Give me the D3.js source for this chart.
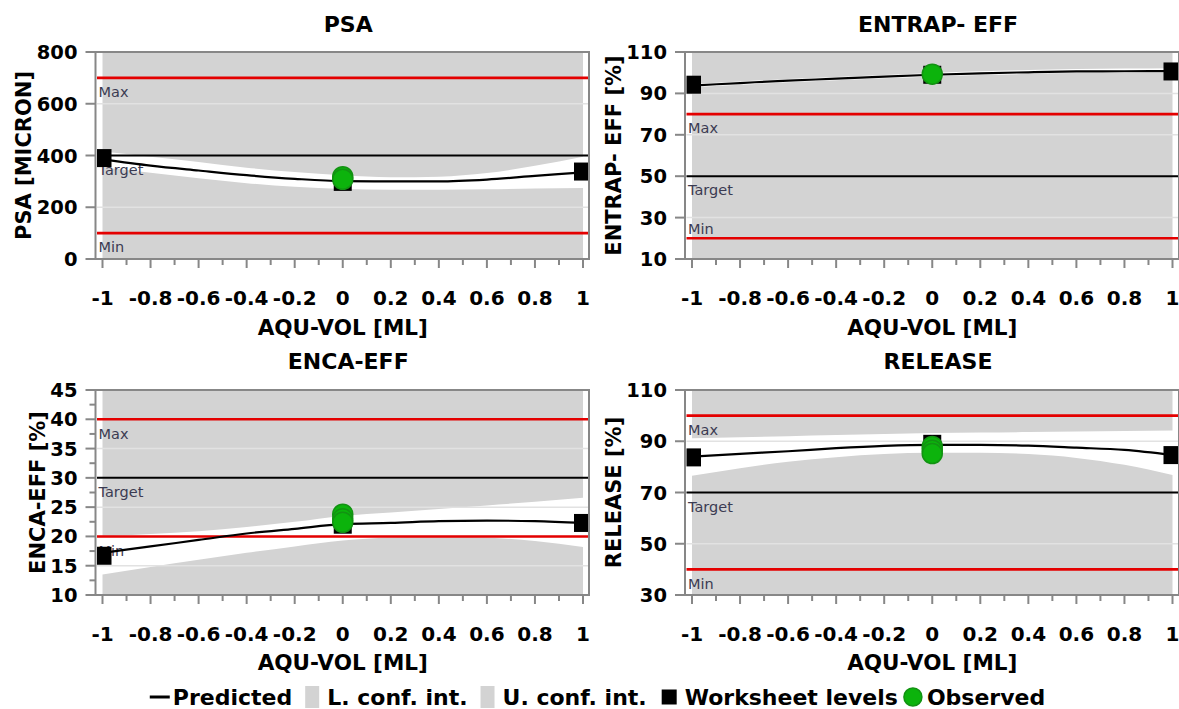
<!DOCTYPE html>
<html><head><meta charset="utf-8">
<script src="https://cdn.jsdelivr.net/npm/d3@7"></script>
<style>
body{margin:0;background:#fff;}
svg{display:block;font-family:"DejaVu Sans",sans-serif;}
</style></head><body>
<svg id="chart" width="1179" height="709"></svg>
<script>
// ---------- data ----------
const xLevels = [-1, -0.8, -0.6, -0.4, -0.2, 0, 0.2, 0.4, 0.6, 0.8, 1];
const xTickValues = [-1, -0.8, -0.6, -0.4, -0.2, 0, 0.2, 0.4, 0.6, 0.8, 1];
const xTickLabels = ["-1", "-0.8", "-0.6", "-0.4", "-0.2", "0", "0.2", "0.4", "0.6", "0.8", "1"];
const xMinorTicks = [-0.9, -0.7, -0.5, -0.3, -0.1, 0.1, 0.3, 0.5, 0.7, 0.9];
const worksheetX = [-1, 0, 1];
const xTitle = "AQU-VOL [ML]";
const limitNames = ["Min", "Target", "Max"];
const legendLabels = ["Predicted", "L. conf. int.", "U. conf. int.", "Worksheet levels", "Observed"];

// PSA
const psaYTicks = [0, 200, 400, 600, 800];
const psaLimits = [100, 400, 700];
const psaPredicted = [385, 361, 342, 324, 310, 301, 300, 300, 307, 321, 335];
const psaLower = [355, 333, 312, 293, 279, 271, 268, 268, 270, 272, 274];
const psaUpper = [415, 395, 375, 353, 336, 324, 316, 318, 332, 360, 395];
const psaWorksheet = [390, 298, 338];
const psaObserved = [318, 308];

// ENTRAP- EFF
const entrapYTicks = [10, 30, 50, 70, 90, 110];
const entrapLimits = [20, 50, 80];
const entrapPredicted = [93.8, 95.0, 96.2, 97.1, 98.1, 99.0, 99.7, 100.2, 100.6, 100.7, 100.8];
const entrapLower = [93.0, 94.2, 95.4, 96.3, 97.3, 98.2, 98.9, 99.4, 99.8, 99.9, 100.0];
const entrapUpper = [94.6, 95.8, 97.0, 97.9, 98.9, 99.9, 100.7, 101.3, 101.8, 102.0, 102.2];
const entrapWorksheet = [94.2, 99.0, 100.6];
const entrapObserved = [99.3];

// ENCA-EFF
const encaYTicks = [10, 15, 20, 25, 30, 35, 40, 45];
const encaYMinor = [12.5, 17.5, 22.5, 27.5, 32.5, 37.5, 42.5];
const encaLimits = [20, 30, 40];
const encaPredicted = [17.2, 18.3, 19.4, 20.5, 21.3, 22.1, 22.3, 22.6, 22.7, 22.6, 22.3];
const encaLower = [13.5, 14.8, 16.0, 17.2, 18.3, 19.3, 19.8, 20.0, 19.8, 19.2, 18.2];
const encaUpper = [20.0, 20.4, 20.9, 21.6, 22.5, 23.5, 24.1, 24.7, 25.3, 25.9, 26.6];
const encaWorksheet = [16.7, 22.0, 22.3];
const encaObserved = [23.8, 23.0, 22.4];

// RELEASE
const releaseYTicks = [30, 50, 70, 90, 110];
const releaseLimits = [40, 70, 100];
const releasePredicted = [84.0, 85.1, 86.1, 87.3, 88.2, 88.6, 88.6, 88.3, 87.5, 86.6, 84.6];
const releaseLower = [76.5, 79.5, 82.0, 83.8, 85.0, 85.5, 85.5, 85.0, 83.5, 80.8, 76.8];
const releaseUpper = [91.2, 91.6, 92.0, 92.4, 92.8, 93.2, 93.4, 93.6, 93.8, 94.0, 94.2];
const releaseWorksheet = [83.7, 89.0, 84.6];
const releaseObserved = [88.0, 86.5, 85.2];

// ---------- panel table built from arrays ----------
const panels = [
  {title:"PSA", yTitle:"PSA [MICRON]", ticks:psaYTicks, minor:[], limits:psaLimits,
   pred:psaPredicted, lower:psaLower, upper:psaUpper, ws:psaWorksheet, obs:psaObserved, col:0, row:0},
  {title:"ENTRAP- EFF", yTitle:"ENTRAP- EFF [%]", ticks:entrapYTicks, minor:[], limits:entrapLimits,
   pred:entrapPredicted, lower:entrapLower, upper:entrapUpper, ws:entrapWorksheet, obs:entrapObserved, col:1, row:0},
  {title:"ENCA-EFF", yTitle:"ENCA-EFF [%]", ticks:encaYTicks, minor:encaYMinor, limits:encaLimits,
   pred:encaPredicted, lower:encaLower, upper:encaUpper, ws:encaWorksheet, obs:encaObserved, col:0, row:1},
  {title:"RELEASE", yTitle:"RELEASE [%]", ticks:releaseYTicks, minor:[], limits:releaseLimits,
   pred:releasePredicted, lower:releaseLower, upper:releaseUpper, ws:releaseWorksheet, obs:releaseObserved, col:1, row:1}
];

// ---------- layout ----------
const colGeom = [{axis:95.5, x0:102.5, x1:583, right:589},
                 {axis:685, x0:692, x1:1172.5, right:1179}];
const rowGeom = [{top:52, bottom:259, title:32, tick:305, xtitle:335},
                 {top:390, bottom:595, title:369, tick:641, xtitle:670}];

const GRAY = "#d3d3d3", AXIS = "#878787", RED = "#e40000", GREEN = "#0cb30c";
const svg = d3.select("#chart");

panels.forEach((p, i) => {
  const c = colGeom[p.col], r = rowGeom[p.row];
  const x = d3.scaleLinear().domain([-1, 1]).range([c.x0, c.x1]);
  const yd = d3.extent(p.ticks);
  const y = d3.scaleLinear().domain(yd).range([r.bottom, r.top]);
  const g = svg.append("g");

  const clipId = "clip" + i;
  svg.append("clipPath").attr("id", clipId).append("rect")
    .attr("x", c.axis + 1.5).attr("y", r.top).attr("width", c.right - c.axis - 2.5).attr("height", r.bottom - r.top);

  const pg = g.append("g").attr("clip-path", `url(#${clipId})`);
  const pts = xLevels.map((xv, k) => ({x: xv, p: p.pred[k], lo: p.lower[k], up: p.upper[k]}));

  // lower confidence area (bottom -> lower bound)
  pg.append("path").datum(pts)
    .attr("d", d3.area().x(d => x(d.x)).y0(y(yd[0])).y1(d => y(d.lo)).curve(d3.curveMonotoneX))
    .attr("fill", GRAY);
  // upper confidence area (upper bound -> top)
  pg.append("path").datum(pts)
    .attr("d", d3.area().x(d => x(d.x)).y0(y(yd[1])).y1(d => y(d.up)).curve(d3.curveMonotoneX))
    .attr("fill", GRAY);

  // faint grid
  pg.selectAll(".grid").data(p.ticks.slice(1, -1)).enter().append("line")
    .attr("x1", c.axis).attr("x2", c.right).attr("y1", d => y(d)).attr("y2", d => y(d))
    .attr("stroke", "#e2e2e2").attr("stroke-width", 1.5);

  // limit lines
  p.limits.forEach((v, k) => {
    pg.append("line").attr("x1", c.axis).attr("x2", c.right).attr("y1", y(v)).attr("y2", y(v))
      .attr("stroke", k === 1 ? "#000" : RED).attr("stroke-width", k === 1 ? 2 : 2.6);
    const yy = y(v);
    const below = yy + 21 <= r.bottom - 2;
    pg.append("text").attr("x", c.axis + 3).attr("y", below ? yy + 14 : yy - 10)
      .attr("dy", "0.36em").attr("font-size", 14.5).attr("fill", "#3b3b52").text(limitNames[k]);
  });

  // predicted line
  pg.append("path").datum(pts)
    .attr("d", d3.line().x(d => x(d.x)).y(d => y(d.p)).curve(d3.curveMonotoneX))
    .attr("fill", "none").attr("stroke", "#000").attr("stroke-width", 2.2);

  // worksheet levels
  const sq = 18;
  pg.selectAll(".ws").data(p.ws).enter().append("rect")
    .attr("x", (d, k) => x(worksheetX[k]) - sq / 2).attr("y", d => y(d) - sq / 2)
    .attr("width", sq).attr("height", sq).attr("fill", "#000");

  // observed
  pg.selectAll(".obs").data(p.obs).enter().append("circle")
    .attr("cx", x(0)).attr("cy", d => y(d)).attr("r", 10)
    .attr("fill", GREEN).attr("stroke", "#129312").attr("stroke-width", 1.5);

  // frame
  g.append("rect").attr("x", c.axis).attr("y", r.top).attr("width", c.right - c.axis).attr("height", r.bottom - r.top)
    .attr("fill", "none").attr("stroke", AXIS).attr("stroke-width", 2);

  // y ticks
  g.selectAll(".yt").data(p.ticks).enter().append("line")
    .attr("x1", c.axis - 10).attr("x2", c.axis).attr("y1", d => y(d)).attr("y2", d => y(d))
    .attr("stroke", AXIS).attr("stroke-width", 2);
  g.selectAll(".ym").data(p.minor).enter().append("line")
    .attr("x1", c.axis - 6).attr("x2", c.axis).attr("y1", d => y(d)).attr("y2", d => y(d))
    .attr("stroke", AXIS).attr("stroke-width", 2);
  const yl = g.selectAll(".yl").data(p.ticks).enter().append("text")
    .attr("x", c.axis - 18).attr("y", d => y(d)).attr("dy", "0.36em")
    .attr("text-anchor", "end").attr("font-weight", "bold").attr("font-size", 19.5).attr("fill", "#000")
    .text(d => d);

  // x ticks
  g.selectAll(".xt").data(xTickValues).enter().append("line")
    .attr("x1", d => x(d)).attr("x2", d => x(d)).attr("y1", r.bottom).attr("y2", r.bottom + 9)
    .attr("stroke", AXIS).attr("stroke-width", 2);
  g.selectAll(".xm").data(xMinorTicks).enter().append("line")
    .attr("x1", d => x(d)).attr("x2", d => x(d)).attr("y1", r.bottom).attr("y2", r.bottom + 6)
    .attr("stroke", AXIS).attr("stroke-width", 2);
  g.selectAll(".xl").data(xTickValues).enter().append("text")
    .attr("x", d => x(d)).attr("y", r.tick).attr("text-anchor", "middle")
    .attr("font-weight", "bold").attr("font-size", 20).text((d, k) => xTickLabels[k]);

  // x title
  g.append("text").attr("x", x(0)).attr("y", r.xtitle).attr("text-anchor", "middle")
    .attr("font-weight", "bold").attr("font-size", 21.5).text(xTitle);

  // panel title
  g.append("text").attr("x", (c.axis + c.right) / 2 + 6).attr("y", r.title).attr("text-anchor", "middle")
    .attr("font-weight", "bold").attr("font-size", 22).text(p.title);

  // y title
  let minX = Infinity;
  yl.each(function(){ const b = this.getBBox(); minX = Math.min(minX, b.x); });
  const tx = minX - 13, ty = (r.top + r.bottom) / 2;
  g.append("text").attr("transform", `translate(${tx},${ty}) rotate(-90)`).attr("dy", "0.36em")
    .attr("text-anchor", "middle").attr("font-weight", "bold").attr("font-size", 21).text(p.yTitle);
});

// ---------- legend ----------
const lg = svg.append("g").attr("font-weight", "bold").attr("font-size", 22);
const ly = 697;
let cx = 0;
function lbl(s) {
  const t = lg.append("text").attr("x", cx).attr("y", ly).attr("dy", "0.36em").text(s);
  cx += t.node().getComputedTextLength();
}
lg.append("line").attr("x1", cx).attr("x2", cx + 20).attr("y1", ly).attr("y2", ly).attr("stroke", "#000").attr("stroke-width", 3);
cx += 23; lbl(legendLabels[0]); cx += 13;
lg.append("rect").attr("x", cx).attr("y", ly - 11).attr("width", 14).attr("height", 22).attr("fill", GRAY);
cx += 22; lbl(legendLabels[1]); cx += 13;
lg.append("rect").attr("x", cx).attr("y", ly - 11).attr("width", 14).attr("height", 22).attr("fill", GRAY);
cx += 22; lbl(legendLabels[2]); cx += 15;
lg.append("rect").attr("x", cx).attr("y", ly - 7.5).attr("width", 15).attr("height", 15).attr("fill", "#000");
cx += 23; lbl(legendLabels[3]); cx += 6;
lg.append("circle").attr("cx", cx + 9).attr("cy", ly).attr("r", 9).attr("fill", GREEN).attr("stroke", "#129312").attr("stroke-width", 1.5);
cx += 23; lbl(legendLabels[4]);
lg.attr("transform", `translate(${597.5 - cx / 2},0)`);
</script>
</body></html>
